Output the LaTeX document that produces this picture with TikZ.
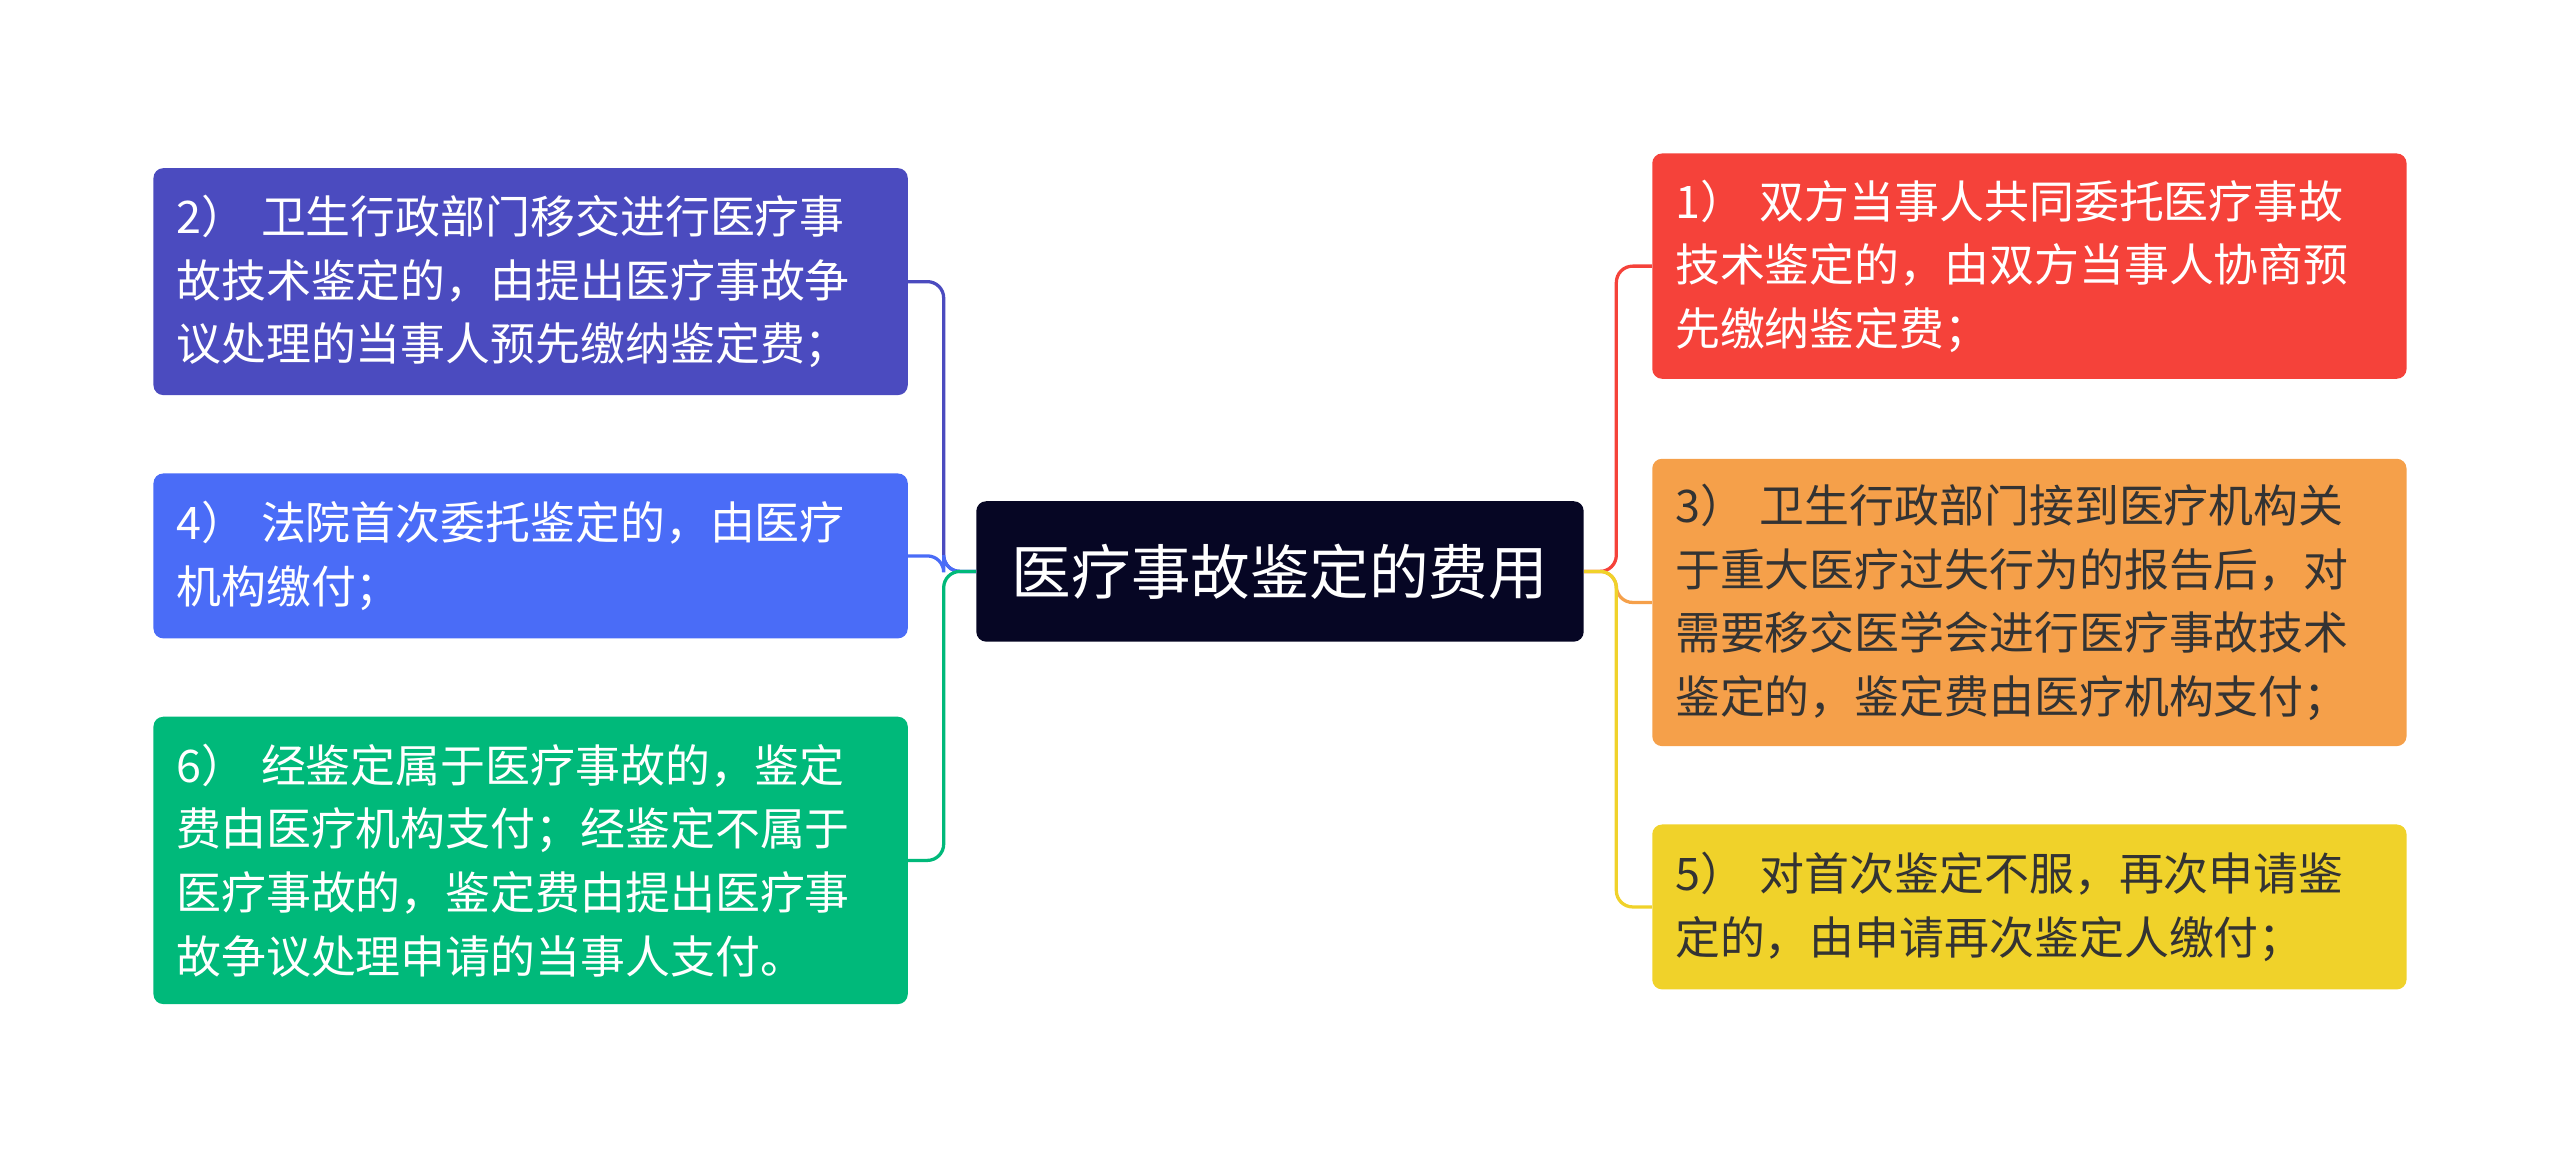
\documentclass[tikz,border=0pt]{standalone}
\usepackage{fontspec}
\setmainfont{Noto Sans CJK SC}
\begin{document}
\begin{tikzpicture}[x=1pt,y=-1pt,
 box/.style={rounded corners=6pt,align=left,text width=434pt,inner xsep=14pt,inner ysep=0pt,font=\fontsize{27.5}{39}\selectfont,anchor=center},
 con/.style={line width=2pt,rounded corners=10pt}]
\useasboundingbox (0,0) rectangle (1568,709);
\definecolor{cc}{HTML}{060624}
\definecolor{l1}{HTML}{4B4BBF}
\definecolor{l2}{HTML}{4A6CF7}
\definecolor{l3}{HTML}{00B97A}
\definecolor{r1}{HTML}{F5423A}
\definecolor{r2}{HTML}{F5A04A}
\definecolor{r3}{HTML}{F0D22A}
\definecolor{tx}{HTML}{333333}
\node[fill=cc,rounded corners=6pt,minimum width=372pt,minimum height=86pt,text=white,font=\fontsize{36.5}{40}\selectfont] (c) at (784,350) {医疗事故鉴定的费用};
\node[box,fill=l1,text=white,minimum height=139pt] (a) at (325,172.5) {2）\ 卫生行政部门移交进行医疗事\\故技术鉴定的，由提出医疗事故争\\议处理的当事人预先缴纳鉴定费；};
\node[box,fill=l2,text=white,minimum height=101pt] (b) at (325,340.5) {4）\ 法院首次委托鉴定的，由医疗\\机构缴付；};
\node[box,fill=l3,text=white,minimum height=176pt] (d) at (325,527) {6）\ 经鉴定属于医疗事故的，鉴定\\费由医疗机构支付；经鉴定不属于\\医疗事故的，鉴定费由提出医疗事\\故争议处理申请的当事人支付。};
\node[box,fill=r1,text=white,minimum height=138pt] (e) at (1243,163) {1）\ 双方当事人共同委托医疗事故\\技术鉴定的，由双方当事人协商预\\先缴纳鉴定费；};
\node[box,fill=r2,text=tx,minimum height=176pt] (f) at (1243,369) {3）\ 卫生行政部门接到医疗机构关\\于重大医疗过失行为的报告后，对\\需要移交医学会进行医疗事故技术\\鉴定的，鉴定费由医疗机构支付；};
\node[box,fill=r3,text=tx,minimum height=101pt] (g) at (1243,555.5) {5）\ 对首次鉴定不服，再次申请鉴\\定的，由申请再次鉴定人缴付；};
\draw[con,l1] (c.west) -- (578,350) |- (a.east);
\draw[con,l2] (c.west) -- (578,350) |- (b.east);
\draw[con,l3] (c.west) -- (578,350) |- (d.east);
\draw[con,r1] (c.east) -- (990,350) |- (e.west);
\draw[con,r2] (c.east) -- (990,350) |- (f.west);
\draw[con,r3] (c.east) -- (990,350) |- (g.west);
\end{tikzpicture}
\end{document}
